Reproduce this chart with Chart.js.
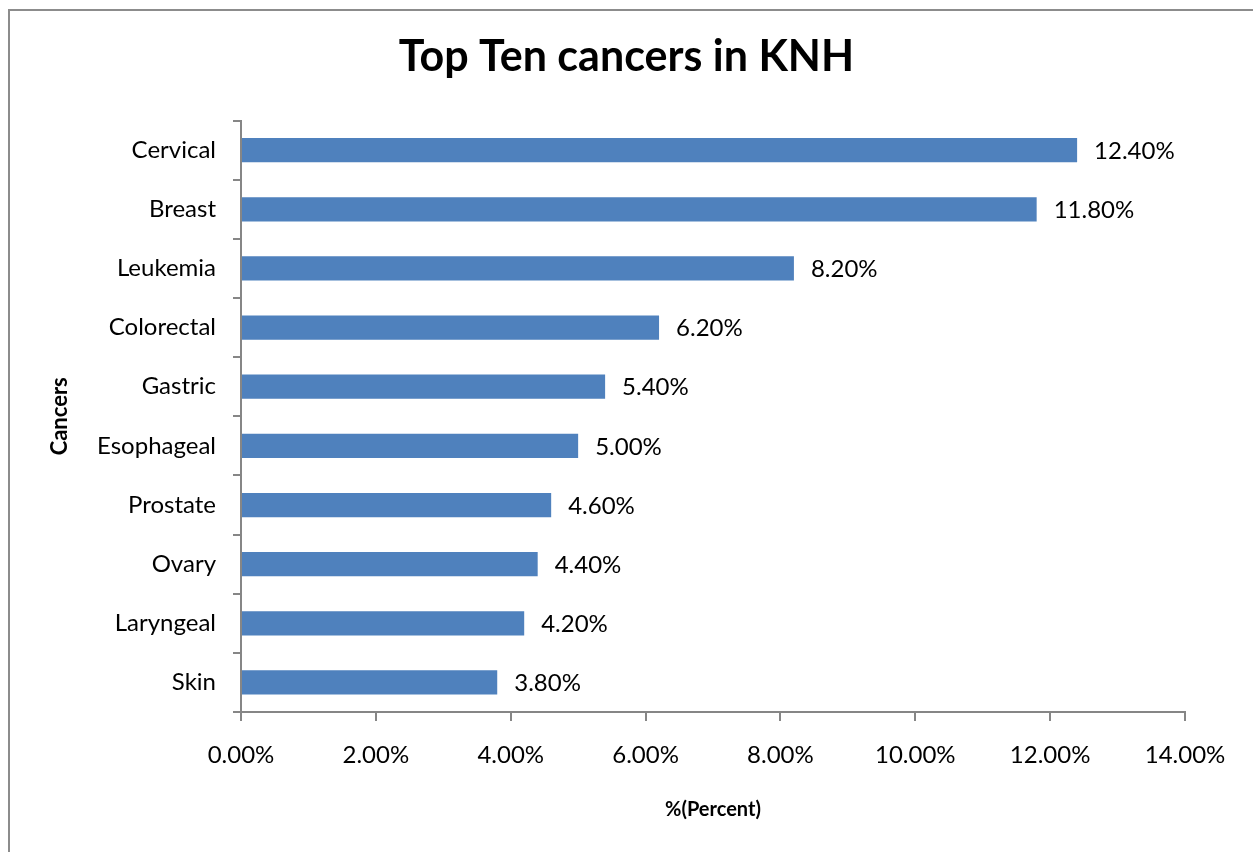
<!DOCTYPE html>
<html>
<head>
<meta charset="utf-8">
<script src="https://cdn.jsdelivr.net/npm/chart.js@4"></script>
<style>
    html, body { margin: 0; padding: 0; background: #fff; overflow: hidden; }
    #wrap { position: relative; width: 1253px; height: 852px; }
    #frame { position: absolute; left: 8px; top: 9px; width: 1260px; height: 860px; border: 2px solid #8c8c8c; box-sizing: border-box; }
    canvas { position: absolute; left: 0; top: 0; }
</style>
</head>
<body>
<div id="wrap">
    <div id="frame"></div>
    <canvas id="barChart" width="1253" height="852"></canvas>
</div>
<script>
// Top ten cancers seen at KNH, share of all cases (%)
const cancers = ["Cervical", "Breast", "Leukemia", "Colorectal", "Gastric", "Esophageal", "Prostate", "Ovary", "Laryngeal", "Skin"];
const percents = [12.4, 11.8, 8.2, 6.2, 5.4, 5.0, 4.6, 4.4, 4.2, 3.8];
const xTicks = [0, 2, 4, 6, 8, 10, 12, 14];

const FONT = "Lato, 'Open Sans', sans-serif";
const AXIS = "#868686";

const fmt = v => Number(v).toFixed(2) + "%";

// value labels just past the end of each bar
const barLabels = {
    id: "barLabels",
    afterDatasetsDraw(chart) {
        const ctx = chart.ctx;
        const meta = chart.getDatasetMeta(0);
        ctx.save();
        ctx.font = "24px " + FONT;
        ctx.fillStyle = "#000";
        ctx.textAlign = "left";
        ctx.textBaseline = "middle";
        meta.data.forEach((bar, i) => {
            ctx.fillText(fmt(percents[i]), bar.x + 17, bar.y + 1);
        });
        ctx.restore();
    }
};

new Chart(document.getElementById("barChart"), {
    type: "bar",
    data: {
        labels: cancers,
        datasets: [{
            label: "Percent",
            data: percents,
            backgroundColor: "#4f81bd",
            borderWidth: 0,
            barPercentage: 0.41,
            categoryPercentage: 1
        }]
    },
    options: {
        indexAxis: "y",
        responsive: false,
        animation: false,
        layout: { padding: 0 },
        plugins: {
            legend: { display: false },
            tooltip: { enabled: false },
            title: {
                display: true,
                text: "Top Ten cancers in KNH",
                color: "#000",
                font: { family: FONT, size: 43, weight: "bold" },
                padding: { top: 31, bottom: 38 }
            }
        },
        scales: {
            x: {
                min: 0,
                max: 14,
                afterBuildTicks: scale => { scale.ticks = xTicks.map(v => ({ value: v })); },
                afterFit: scale => { scale.height = 140; },
                ticks: {
                    callback: v => fmt(v),
                    color: "#000",
                    font: { family: FONT, size: 24 },
                    padding: 20,
                    maxRotation: 0
                },
                grid: { drawOnChartArea: false, drawTicks: true, tickLength: 9, color: AXIS, lineWidth: 2 },
                border: { color: AXIS, width: 2 },
                title: {
                    display: true,
                    text: "%(Percent)",
                    color: "#000",
                    font: { family: FONT, size: 20, weight: "bold" },
                    padding: { top: 0, bottom: 30 }
                }
            },
            y: {
                afterFit: scale => { scale.width = 241; },
                ticks: {
                    color: "#000",
                    font: { family: FONT, size: 24 },
                    padding: 17
                },
                grid: { drawOnChartArea: false, drawTicks: true, tickLength: 8, color: AXIS, lineWidth: 2, offset: true },
                border: { color: AXIS, width: 2 },
                title: {
                    display: true,
                    text: "Cancers",
                    color: "#000",
                    font: { family: FONT, size: 22, weight: "bold" },
                    padding: { top: 47, bottom: 0 }
                }
            },
            // empty right-hand axis that only reserves the margin beside the plot
            yRight: {
                position: "right",
                type: "category",
                labels: cancers,
                afterFit: scale => { scale.width = 68; },
                ticks: { display: false },
                grid: { display: false },
                border: { display: false }
            }
        }
    },
    plugins: [barLabels]
});
</script>
</body>
</html>
